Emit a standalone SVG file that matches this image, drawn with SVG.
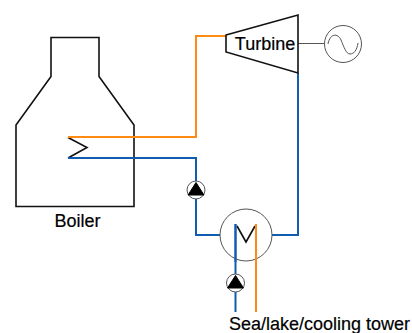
<svg xmlns="http://www.w3.org/2000/svg" width="412" height="333" viewBox="0 0 412 333">
<style>
.k{fill:none;stroke:#111;stroke-width:1.6;stroke-linejoin:miter}
.o{fill:none;stroke:#ff8a14;stroke-width:2}
.b{fill:none;stroke:#0f5cb0;stroke-width:2}
.g{fill:#fff;stroke:#555;stroke-width:1}
.t{font-family:"Liberation Sans",Arial,sans-serif;font-size:18px;fill:#000;stroke:#000;stroke-width:0.2}
</style>
<rect width="412" height="333" fill="#fff"/>
<g id="boiler">
<path class="k" d="M51 37.5H99V76.5L134 125V206.5H16V125L51 76.5Z"/>
<path class="k" d="M68 137.5L87 147.5L68 158"/>
<text class="t" x="77.500" y="227" text-anchor="middle">Boiler</text>
</g>
<g id="connectors">
<path class="o" d="M68 137H196V36H226"/>
<path class="b" d="M68 158H196V235H220"/>
<path class="b" d="M298 73V235H272"/>
<path class="b" d="M235.500 224V312"/>
<path class="o" d="M256 224V312"/>
<path d="M298 43.500H325" fill="none" stroke="#555" stroke-width="1"/>
</g>
<g id="turbine">
<path d="M226 35L298 15V73L226 52Z" fill="#fff" stroke="#111" stroke-width="1.600"/>
<text class="t" x="265" y="50" text-anchor="middle">Turbine</text>
</g>
<g id="generator">
<circle class="g" cx="343" cy="44" r="18.500"/>
<path d="M328 44C330 33 338 33 341 40S346 54 350 54S357 50 358 43" fill="none" stroke="#555" stroke-width="1"/>
</g>
<g id="pump1">
<circle class="g" cx="196" cy="190" r="9"/>
<path d="M188 195L196 182.500L204 195Z" fill="#000" stroke="#000"/>
</g>
<g id="condenser">
<circle cx="246" cy="235" r="26" fill="none" stroke="#555" stroke-width="1"/>
<path class="k" d="M237 226L246 242L255 226"/>
</g>
<path class="b" d="M235.500 224V262"/>
<path class="o" d="M256 224V262"/>
<g id="pump2">
<circle class="g" cx="235.500" cy="283" r="9"/>
<path d="M227.500 288L235.500 275.500L243.500 288Z" fill="#000" stroke="#000"/>
</g>
<g id="label"><text class="t" x="229" y="330">Sea/lake/cooling tower</text></g>
</svg>
